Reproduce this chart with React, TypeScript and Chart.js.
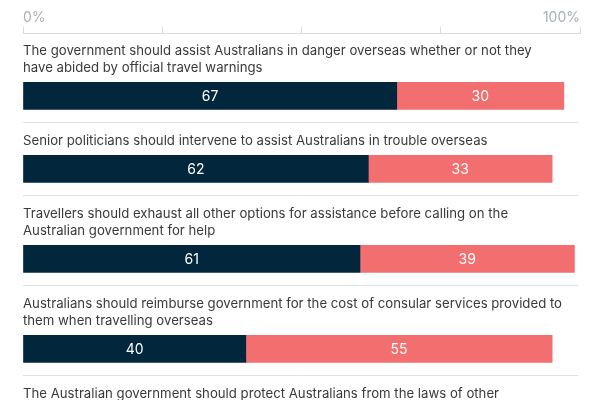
import React, { useEffect, useRef } from "react";
import { Chart, registerables } from "chart.js";

Chart.register(...registerables);

const categories: string[][] = [
  ["The government should assist Australians in danger overseas whether or not they", "have abided by official travel warnings"],
  ["Senior politicians should intervene to assist Australians in trouble overseas"],
  ["Travellers should exhaust all other options for assistance before calling on the", "Australian government for help"],
  ["Australians should reimburse government for the cost of consular services provided to", "them when travelling overseas"],
  ["The Australian government should protect Australians from the laws of other", "countries"],
];
const agreeValues = [67.1, 62, 60.5, 40, 24];
const disagreeValues = [30, 33, 38.5, 55, 71];
const xTickLabels: Record<number, string> = { 0: "0%", 100: "100%" };

const FONT = "Inter, 'DejaVu Sans', sans-serif";
const LINE_H = 17;
const BLOCK_BASE = 56;
const BAR_OFFSET = 28;

// row layout derived from the number of label lines
const rowStarts: number[] = [];
let acc = 0;
categories.forEach((c) => {
  rowStarts.push(acc);
  acc += BLOCK_BASE + LINE_H * c.length;
});
const totalUnits = acc;
const rowCenters = categories.map((c, i) => rowStarts[i] + LINE_H * c.length + BAR_OFFSET);

const labelPlugin = {
  id: "rowLabels",
  beforeDatasetsDraw(chart: any) {
    const { ctx, chartArea } = chart;
    const meta = chart.getDatasetMeta(0);
    ctx.save();
    ctx.strokeStyle = "#dce2e8";
    ctx.lineWidth = 1;
    meta.data.forEach((bar: any) => {
      const y = Math.round(bar.y + bar.height / 2 + 13) + 0.5;
      ctx.beginPath();
      ctx.moveTo(chartArea.left, y);
      ctx.lineTo(chartArea.right - 2, y);
      ctx.stroke();
    });
    ctx.restore();
  },
  afterDatasetsDraw(chart: any) {
    const { ctx, chartArea } = chart;
    const meta = chart.getDatasetMeta(0);
    ctx.save();
    ctx.font = `13.2px ${FONT}`;
    ctx.fillStyle = "#3a3a3a";
    ctx.textAlign = "left";
    ctx.textBaseline = "middle";
    meta.data.forEach((bar: any, i: number) => {
      const lines = categories[i];
      const top = bar.y - bar.height / 2;
      lines.forEach((line, j) => {
        const y = top - 14.5 - (lines.length - 1 - j) * LINE_H;
        ctx.fillText(line, chartArea.left, y);
      });
    });
    // value labels
    ctx.font = `14px ${FONT}`;
    ctx.fillStyle = "#ffffff";
    ctx.textAlign = "center";
    chart.data.datasets.forEach((ds: any, di: number) => {
      const m = chart.getDatasetMeta(di);
      m.data.forEach((bar: any, i: number) => {
        const x1 = Math.min(bar.x, bar.base);
        const x2 = Math.max(bar.x, bar.base);
        ctx.fillText(String(Math.round(ds.data[i].x)), (x1 + x2) / 2, bar.y + 1);
      });
    });
    ctx.restore();
  },
};

export default function App() {
  const ref = useRef<HTMLCanvasElement>(null);
  useEffect(() => {
    if (!ref.current) return;
    const chart = new Chart(ref.current, {
      type: "bar",
      data: {
        datasets: [
          {
            label: "Agree",
            data: agreeValues.map((v, i) => ({ x: v, y: rowCenters[i] })),
            backgroundColor: "#02263c",
            barThickness: 27,
          },
          {
            label: "Disagree",
            data: disagreeValues.map((v, i) => ({ x: v, y: rowCenters[i] })),
            backgroundColor: "#f26e6f",
            barThickness: 27,
          },
        ],
      } as any,
      options: {
        indexAxis: "y",
        animation: false,
        responsive: true,
        maintainAspectRatio: false,
        layout: { padding: { left: 15, right: 12, top: 0, bottom: 0 } },
        plugins: { legend: { display: false }, tooltip: { enabled: false } },
        scales: {
          x: {
            type: "linear",
            position: "top",
            stacked: true,
            min: 0,
            max: 100,
            ticks: {
              stepSize: 25,
              align: "inner",
              padding: 1,
              color: "#a7afb7",
              font: { family: FONT, size: 14 },
              callback: (v: any) => xTickLabels[v as number] ?? "",
              maxRotation: 0,
              autoSkip: false,
            },
            grid: { drawOnChartArea: false, drawTicks: true, tickLength: 7, color: "#d5dce3" },
            border: { display: true, color: "#d5dce3" },
          },
          y: {
            type: "linear",
            stacked: true,
            reverse: true,
            offset: false,
            grace: 0,
            min: 0,
            max: totalUnits,
            display: false,
          },
        },
      } as any,
      plugins: [labelPlugin],
    });
    return () => chart.destroy();
  }, []);
  return (
    <div style={{ position: "relative", width: "100%", height: 26 + totalUnits }}>
      <canvas ref={ref} />
    </div>
  );
}
